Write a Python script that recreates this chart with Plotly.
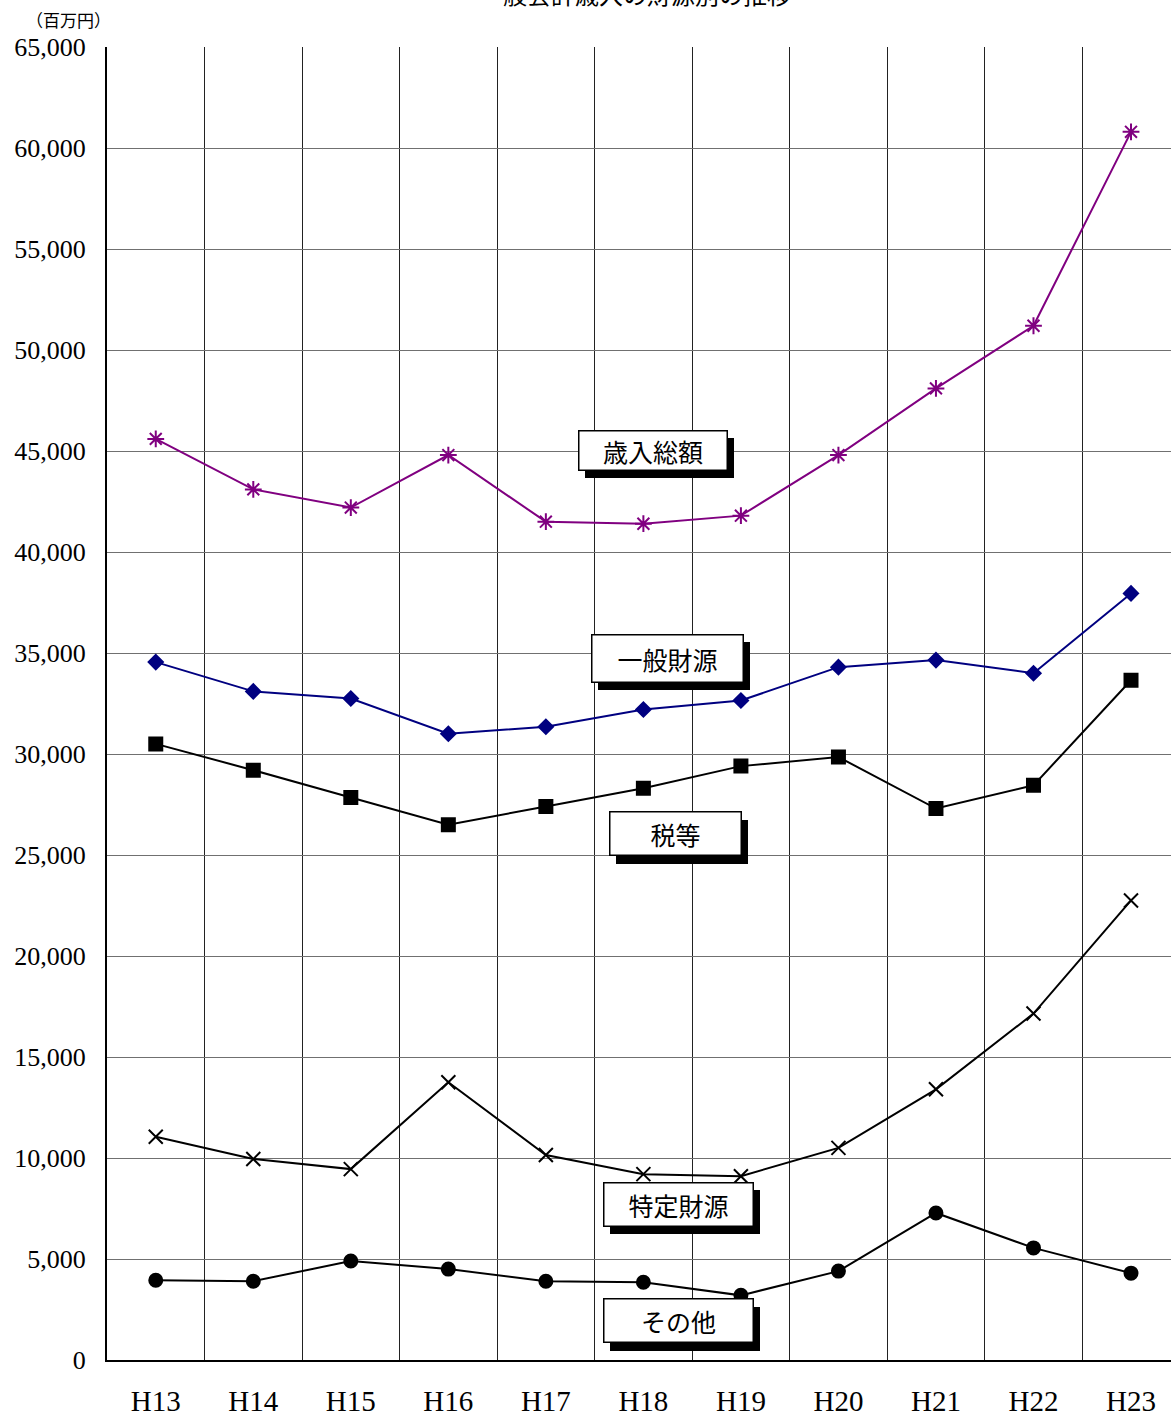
import plotly.graph_objects as go

years = ["H13", "H14", "H15", "H16", "H17", "H18", "H19", "H20", "H21", "H22", "H23"]
total = [45600, 43100, 42200, 44800, 41500, 41400, 41800, 44800, 48100, 51200, 60800]
general = [34550, 33100, 32750, 31000, 31350, 32200, 32650, 34300, 34650, 34000, 37950]
tax = [30500, 29200, 27850, 26500, 27400, 28300, 29400, 29850, 27300, 28450, 33650]
specific = [11050, 9950, 9450, 13750, 10150, 9200, 9100, 10500, 13400, 17150, 22750]
other = [3950, 3900, 4900, 4500, 3900, 3850, 3200, 4400, 7280, 5550, 4300]

xs = list(range(len(years)))

fig = go.Figure()

def add(vals, color, symbol, size, lw=2):
    fig.add_trace(go.Scatter(
        x=xs, y=vals, mode="lines+markers",
        line=dict(color=color, width=lw),
        marker=dict(symbol=symbol, size=size, color=color,
                    line=dict(color=color, width=2)),
        showlegend=False, hoverinfo="skip"))

add(total, "#800080", "asterisk-open", 14)
add(general, "#000080", "diamond", 11)
add(tax, "#000000", "square", 13)
add(specific, "#000000", "x-thin-open", 14)
add(other, "#000000", "circle", 13)

labels = [
    ("歳入総額", 5.1, 44950, 145, 36),
    ("一般財源", 5.25, 34650, 148, 44),
    ("税等", 5.33, 25950, 128, 40),
    ("特定財源", 5.36, 7600, 146, 40),
    ("その他", 5.36, 1840, 146, 40),
]
for text, x, y, w, h in labels:
    # shadow
    fig.add_annotation(x=x, y=y, xref="x", yref="y", text="&nbsp;", showarrow=False,
                       font=dict(family="Noto Sans CJK JP", size=25, color="#000000"),
                       bgcolor="#000000", bordercolor="#000000", borderwidth=1,
                       width=w, height=h, xshift=6, yshift=-6)
    fig.add_annotation(x=x, y=y, xref="x", yref="y", text=text, showarrow=False,
                       font=dict(family="Noto Sans CJK JP", size=25, color="#000000"),
                       bgcolor="#ffffff", bordercolor="#000000", borderwidth=1.5,
                       width=w, height=h, yshift=2)

fig.add_annotation(xref="paper", yref="paper", x=0.496, xanchor="center",
                   y=1, yanchor="bottom", yshift=34,
                   text="一般会計歳入の財源別の推移", showarrow=False,
                   font=dict(family="Noto Sans CJK JP", size=24, color="#000000"))
fig.add_annotation(xref="paper", yref="paper", x=-0.036, xanchor="center",
                   y=1, yanchor="middle", yshift=28,
                   text="（百万円）", showarrow=False,
                   font=dict(family="Noto Sans CJK JP", size=17, color="#000000"))

fig.update_layout(
    width=1171, height=1420,
    margin=dict(l=107, r=0, t=47, b=60, autoexpand=False),
    paper_bgcolor="#ffffff", plot_bgcolor="#ffffff",
    font=dict(family="Liberation Serif", color="#000000"),
)
fig.update_xaxes(
    range=[-0.5, 10.41], tickvals=xs, ticktext=years,
    tickfont=dict(family="Liberation Serif", size=29, color="#000000"),
    showgrid=False, ticks="", ticklabelstandoff=14,
    showline=True, linecolor="#000000", linewidth=2,
    minor=dict(tickvals=[i + 0.5 for i in xs[:-1]], showgrid=True,
               gridcolor="#222222", gridwidth=1),
    zeroline=False,
)
fig.update_yaxes(
    range=[0, 65000], dtick=5000, tickformat=",",
    tickfont=dict(family="Liberation Serif", size=26, color="#000000"),
    showgrid=True, gridcolor="#707070", gridwidth=1,
    showline=True, linecolor="#000000", linewidth=2,
    ticklabelstandoff=14, zeroline=False,
)

fig.write_html("out.html")
